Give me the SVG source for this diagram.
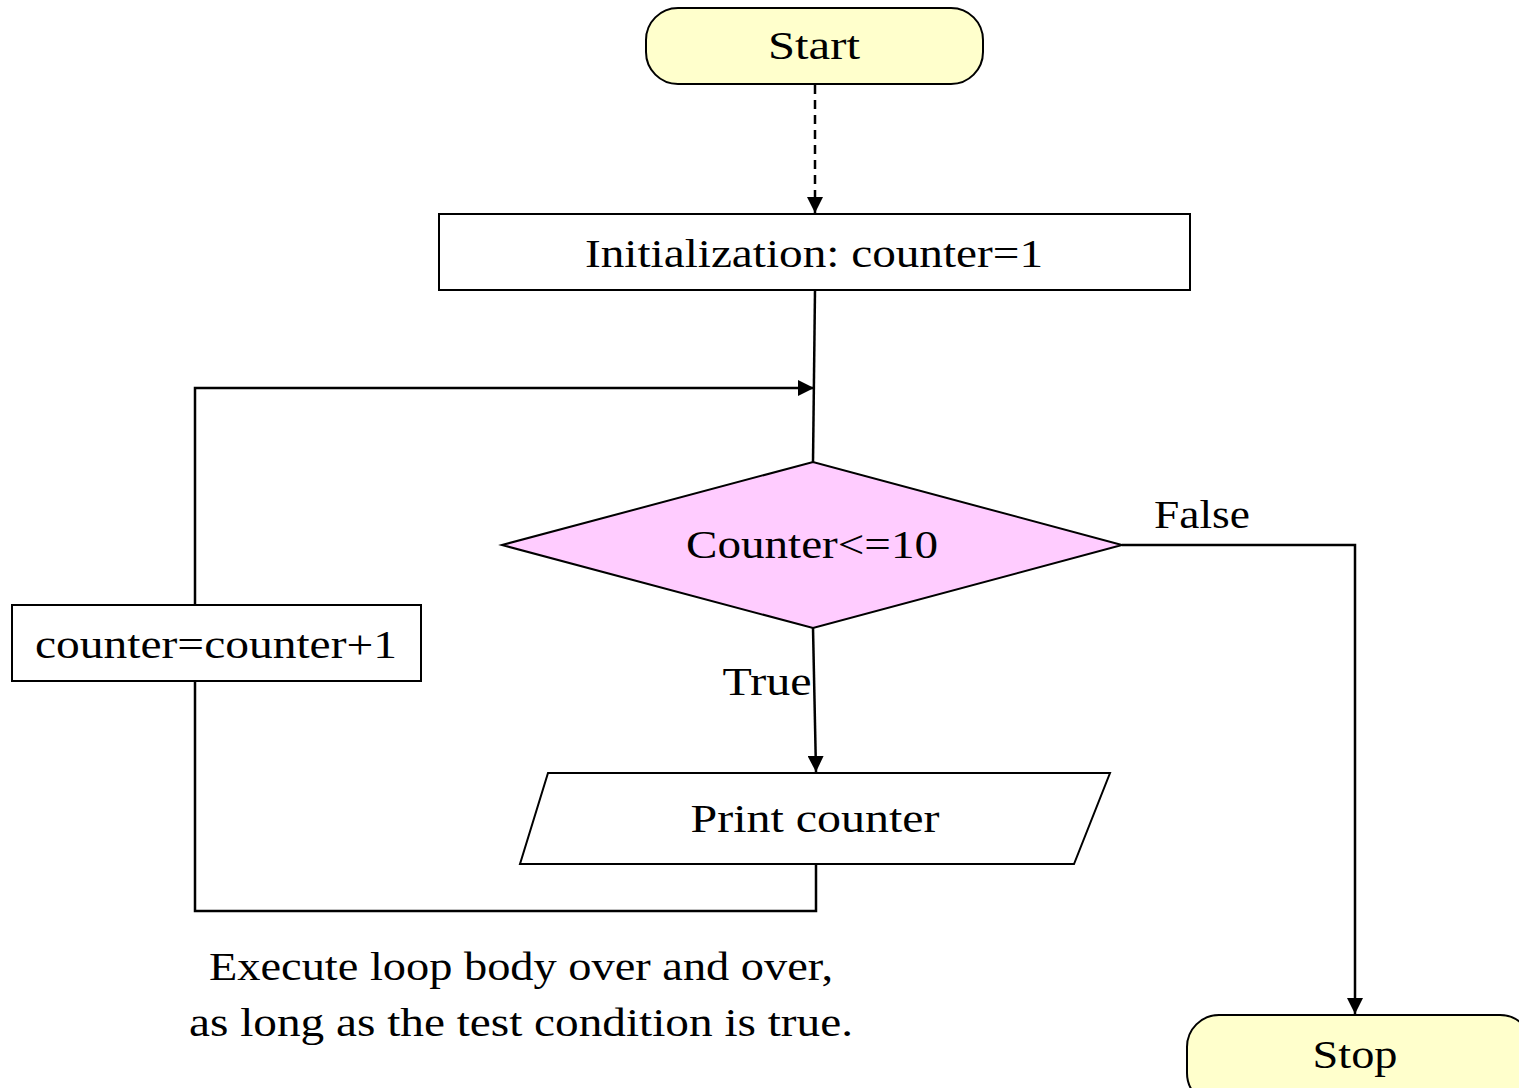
<svg xmlns="http://www.w3.org/2000/svg" width="1519" height="1088" viewBox="0 0 1519 1088">
<style>
text{font-family:"Liberation Serif","DejaVu Serif",serif;font-size:40px;fill:#000;text-anchor:middle}
.n{stroke:#000;stroke-width:2}
.term{fill:#FFFFCC}
.box{fill:#fff}
.dec{fill:#FFCCFF}
.c{fill:none;stroke:#000;stroke-width:2.5}
</style>
<defs>
<marker id="ah" viewBox="0 0 10 10" refX="10" refY="5" markerWidth="6.5" markerHeight="6.5" markerUnits="strokeWidth" orient="auto">
<path d="M0,0 L10,5 L0,10 z" fill="#000"/>
</marker>
</defs>
<rect width="1519" height="1088" fill="#fff"/>
<g id="connectors">
<path class="c" d="M815,85 L815,213" stroke-dasharray="9,6" marker-end="url(#ah)"/>
<path class="c" d="M815,290 L813,462"/>
<path class="c" d="M195,605 L195,388 L814,388" marker-end="url(#ah)"/>
<path class="c" d="M1122,545 L1355,545 L1355,1014" marker-end="url(#ah)"/>
<path class="c" d="M813,628 L816,772" marker-end="url(#ah)"/>
<path class="c" d="M816,864 L816,911 L195,911 L195,681"/>
</g>
<g id="start">
<rect class="n term" x="646" y="8" width="337" height="76" rx="32"/>
<text x="814" y="59" textLength="92" lengthAdjust="spacingAndGlyphs">Start</text>
</g>
<g id="init">
<rect class="n box" x="439" y="214" width="751" height="76"/>
<text x="814" y="267" textLength="458" lengthAdjust="spacingAndGlyphs">Initialization: counter=1</text>
</g>
<g id="decision">
<polygon class="n dec" points="502,545 813,462 1122,545 813,628"/>
<text x="812" y="558" textLength="252" lengthAdjust="spacingAndGlyphs">Counter&lt;=10</text>
</g>
<g id="print">
<polygon class="n box" points="548,773 1110,773 1074,864 520,864"/>
<text x="815" y="832" textLength="249" lengthAdjust="spacingAndGlyphs">Print counter</text>
</g>
<g id="increment">
<rect class="n box" x="12" y="605" width="409" height="76"/>
<text x="216" y="658" textLength="362" lengthAdjust="spacingAndGlyphs">counter=counter+1</text>
</g>
<g id="stop">
<rect class="n term" x="1187" y="1015" width="345" height="90" rx="32"/>
<text x="1355" y="1068" textLength="85" lengthAdjust="spacingAndGlyphs">Stop</text>
</g>
<g id="labels">
<text x="1202" y="528" textLength="96" lengthAdjust="spacingAndGlyphs">False</text>
<text x="767" y="695" textLength="89" lengthAdjust="spacingAndGlyphs">True</text>
<text x="521" y="980" textLength="624" lengthAdjust="spacingAndGlyphs">Execute loop body over and over,</text>
<text x="521" y="1036" textLength="664" lengthAdjust="spacingAndGlyphs">as long as the test condition is true.</text>
</g>
</svg>
